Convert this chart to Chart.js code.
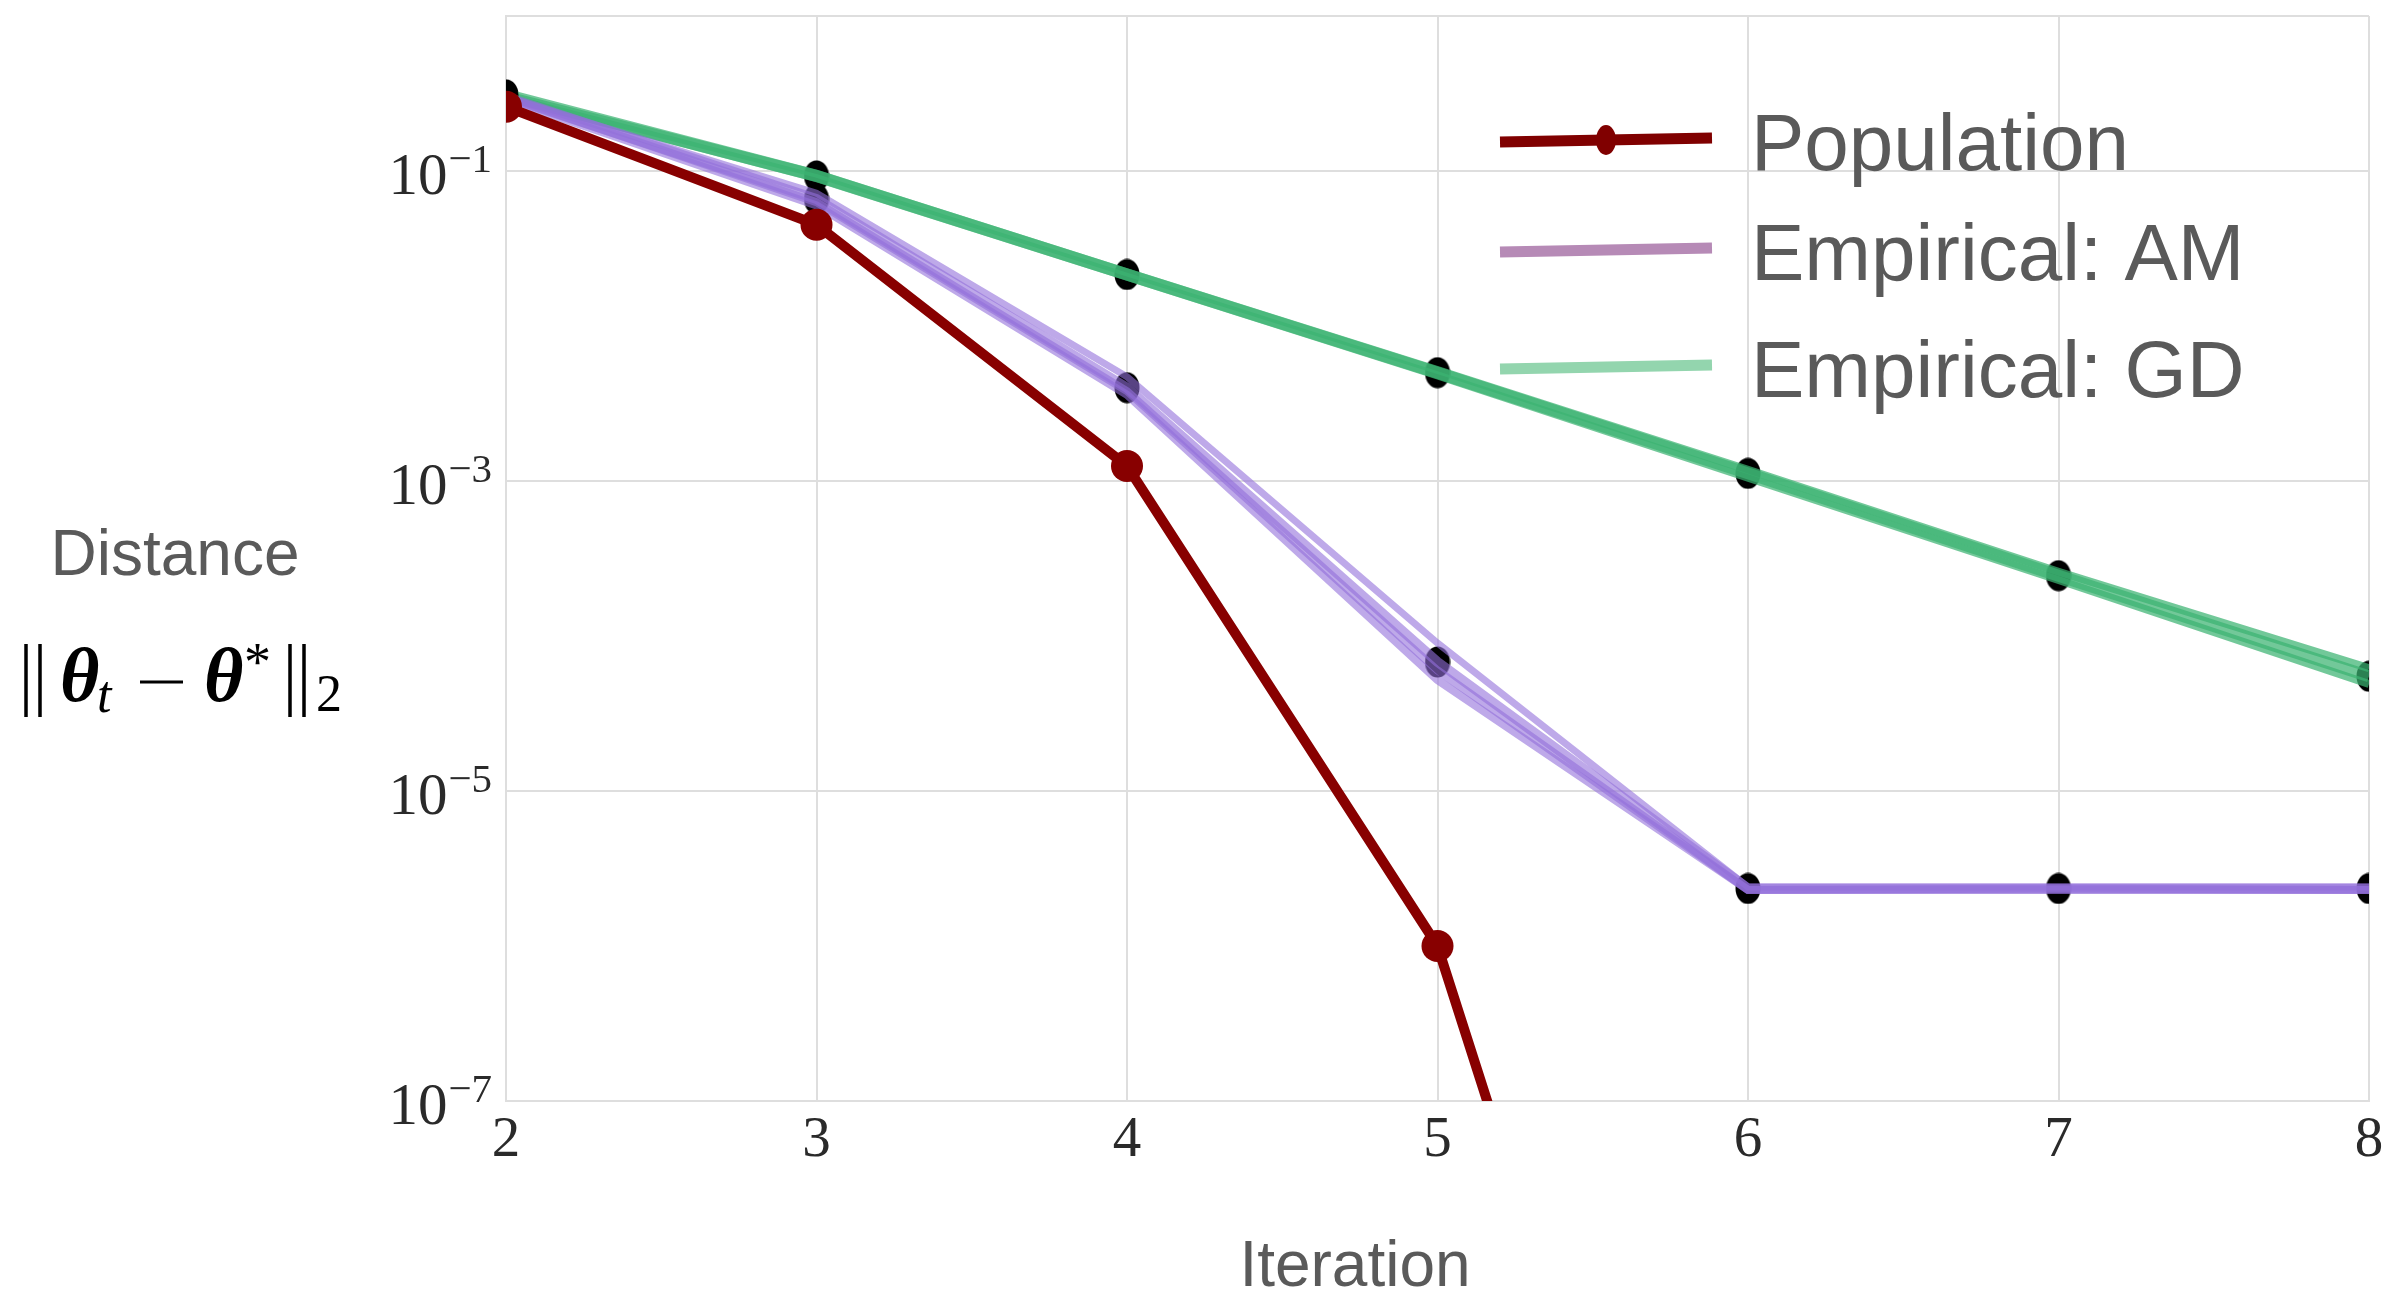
<!DOCTYPE html>
<html>
<head>
<meta charset="utf-8">
<script src="https://cdn.jsdelivr.net/npm/chart.js@4.4.0/dist/chart.umd.min.js"></script>
<style>
  html, body { margin: 0; padding: 0; background: #fff; }
  #wrap { width: 2392px; height: 1292px; position: relative; }
</style>
</head>
<body>
<div id="wrap"><canvas id="myChart"></canvas></div>
<script>
// values (log y axis)
const iterations = [2, 3, 4, 5, 6, 7, 8]
const population = [0.26, 0.045, 1.25e-3, 1.0e-6, 5.6e-13, null, null]
const amMean = [0.30, 0.066, 4.0e-3, 6.8e-5, 2.35e-6, 2.35e-6, 2.35e-6]
const amRunA = [0.30, 0.072, 4.7e-3, 9.0e-5, 2.4e-6, 2.4e-6, 2.4e-6]
const amRunB = [0.29, 0.060, 3.6e-3, 5.2e-5, 2.3e-6, 2.3e-6, 2.3e-6]
const amRunC = [0.30, 0.063, 3.8e-3, 6.0e-5, 2.3e-6, 2.35e-6, 2.3e-6]
const gdMean = [0.31, 0.093, 0.0215, 5.0e-3, 1.12e-3, 2.45e-4, 5.5e-5]
const gdRunA = [0.31, 0.096, 0.0222, 5.2e-3, 1.18e-3, 2.6e-4, 6.2e-5]
const gdRunB = [0.30, 0.090, 0.0208, 4.8e-3, 1.05e-3, 2.3e-4, 4.9e-5]
const seriesNames = ['Population', 'Empirical: AM', 'Empirical: GD']
const xTickLabels = ['2', '3', '4', '5', '6', '7', '8']
const yTickExps = [-1, -3, -5, -7]

const serif = '"Liberation Serif", "DejaVu Serif", serif'
const sans = '"Liberation Sans", Arial, sans-serif'

function pts(arr) {
  return arr.map((v, i) => ({ x: iterations[i], y: v }))
}

// black markers in the picture are a bit taller than wide
const dot = document.createElement('canvas')
dot.width = 26
dot.height = 32
const dctx = dot.getContext('2d')
dctx.fillStyle = '#000'
dctx.beginPath()
dctx.ellipse(13, 16, 12.5, 15.5, 0, 0, Math.PI * 2)
dctx.fill()

const ctx = document.getElementById('myChart')

// tick labels, axis titles and legend drawn on the canvas
const decorations = {
  id: 'decorations',
  beforeDraw(chart) {
    const c = chart.ctx
    c.save()
    c.fillStyle = '#fff'
    c.fillRect(0, 0, chart.width, chart.height)
    c.restore()
  },
  afterDraw(chart) {
    const c = chart.ctx
    const area = chart.chartArea
    const xs = chart.scales.x
    const ys = chart.scales.y
    c.save()

    // x tick labels
    c.fillStyle = '#2a2a2a'
    c.font = '57px ' + serif
    c.textAlign = 'center'
    c.textBaseline = 'alphabetic'
    xTickLabels.forEach((t, i) => {
      c.fillText(t, xs.getPixelForValue(iterations[i]), 1156)
    })

    // y tick labels 10^e
    yTickExps.forEach(e => {
      const y = ys.getPixelForValue(Math.pow(10, e))
      const sup = '\u2212' + Math.abs(e)
      c.font = '41px ' + serif
      const supW = c.measureText(sup).width
      const supRight = area.left - 14
      c.textAlign = 'left'
      c.fillText(sup, supRight - supW, y + 1)
      c.font = '59px ' + serif
      c.textAlign = 'right'
      c.fillText('10', supRight - supW - 1, y + 23)
    })

    // x title
    c.fillStyle = '#5a5a5a'
    c.font = '64px ' + sans
    c.textAlign = 'center'
    c.fillText('Iteration', 1355, 1286)

    // y title
    c.fillText('Distance', 175, 575)

    // ||theta_t - theta*||_2
    c.fillStyle = '#000'
    c.strokeStyle = '#000'
    c.lineWidth = 3.5
    ;[26, 40, 290, 304].forEach(bx => {
      c.beginPath()
      c.moveTo(bx, 644)
      c.lineTo(bx, 717)
      c.stroke()
    })
    c.lineWidth = 3
    c.beginPath()
    c.moveTo(140, 682)
    c.lineTo(183, 682)
    c.stroke()
    c.textAlign = 'left'
    const parts = [
      { t: '\u03b8', f: 'italic bold 76px ' + serif, x: 60, y: 701 },
      { t: 't', f: 'italic 52px ' + serif, x: 97, y: 712 },
      { t: '\u03b8', f: 'italic bold 76px ' + serif, x: 204, y: 701 },
      { t: '*', f: '54px ' + serif, x: 244, y: 680 },
      { t: '2', f: '52px ' + serif, x: 316, y: 711 }
    ]
    parts.forEach(p => {
      c.font = p.f
      c.fillText(p.t, p.x, p.y)
    })

    // legend
    const rows = [
      { y: 140, color: '#800000', marker: true },
      { y: 250, color: '#b68ab6', marker: false },
      { y: 367, color: '#93d5ae', marker: false }
    ]
    rows.forEach((r, i) => {
      c.strokeStyle = r.color
      c.lineWidth = 11
      c.beginPath()
      c.moveTo(1500, r.y + 2)
      c.lineTo(1712, r.y - 2)
      c.stroke()
      if (r.marker) {
        c.fillStyle = r.color
        c.beginPath()
        c.ellipse(1606, r.y, 10, 15, 0, 0, Math.PI * 2)
        c.fill()
      }
      c.fillStyle = '#5a5a5a'
      c.font = '80px ' + sans
      c.textAlign = 'left'
      c.fillText(seriesNames[i], 1751, r.y + 30)
    })
    c.restore()
  }
}

const amColor = 'rgba(147, 112, 219, 0.6)'
const gdColor = 'rgba(60, 179, 113, 0.72)'

function run(label, arr, color, width, order) {
  return { label: label, data: pts(arr), borderColor: color, borderWidth: width, pointRadius: 0, order: order }
}
function markers(label, arr, order) {
  return { label: label, data: pts(arr), showLine: false, pointStyle: dot, pointRadius: 14, order: order }
}

new Chart(ctx, {
  type: 'line',
  data: {
    datasets: [
      {
        label: seriesNames[0],
        data: pts(population),
        borderColor: '#880000',
        backgroundColor: '#880000',
        borderWidth: 10,
        pointRadius: 16,
        pointBorderWidth: 0,
        order: 1
      },
      run(seriesNames[1], amMean, amColor, 10, 2),
      run('am-a', amRunA, amColor, 7, 2),
      run('am-b', amRunB, amColor, 8, 2),
      run('am-c', amRunC, amColor, 8, 2),
      markers('am-markers', amMean, 3),
      run(seriesNames[2], gdMean, gdColor, 12, 4),
      run('gd-a', gdRunA, gdColor, 8, 4),
      run('gd-b', gdRunB, gdColor, 8, 4),
      markers('gd-markers', gdMean, 5)
    ]
  },
  options: {
    responsive: true,
    maintainAspectRatio: false,
    animation: false,
    layout: { padding: { left: 506, right: 23, top: 12, bottom: 191 } },
    elements: { line: { tension: 0, fill: false } },
    plugins: {
      legend: { display: false },
      tooltip: { enabled: false }
    },
    scales: {
      x: {
        type: 'linear',
        min: 2,
        max: 8,
        ticks: { display: false, stepSize: 1 },
        grid: { color: '#dedede', lineWidth: 2, drawTicks: false },
        border: { color: '#dedede', width: 2 }
      },
      y: {
        type: 'logarithmic',
        min: 1e-7,
        max: 1,
        afterBuildTicks: (scale) => {
          scale.ticks = [{ value: 1 }].concat(yTickExps.map(e => ({ value: Math.pow(10, e) })))
        },
        ticks: { display: false },
        grid: { color: '#dedede', lineWidth: 2, drawTicks: false },
        border: { color: '#dedede', width: 2 }
      }
    }
  },
  plugins: [decorations]
})
</script>
</body>
</html>
